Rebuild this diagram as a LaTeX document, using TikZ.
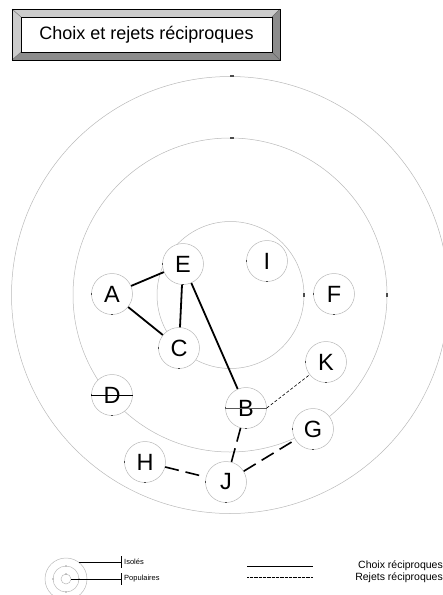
\documentclass[tikz,border=0pt]{standalone}
\usepackage{fontspec}
\setmainfont{Liberation Sans}
\usetikzlibrary{positioning}
\definecolor{ringgray}{RGB}{185,185,185}
\definecolor{bevellight}{RGB}{204,204,204}
\definecolor{beveldark}{RGB}{140,140,140}

\begin{document}
\begin{tikzpicture}[x=1pt,y=-1pt,
  ring/.style={draw=ringgray,line width=0.5pt},
  pupil/.style={circle,draw=ringgray,line width=0.5pt,fill=white,minimum size=41pt,inner sep=0pt,font=\fontsize{23.5}{23.5}\selectfont},
  ticky/.style={draw=black!70,line width=1.2pt},
  choix/.style={line width=1.8pt},
  rejet/.style={line width=1.6pt,dash pattern=on 14pt off 7pt},
  rejetfin/.style={line width=0.6pt,dash pattern=on 3pt off 2pt}]
\useasboundingbox (0,0) rectangle (443,595);
% Title box with bevel
\fill[beveldark] (12,9) rectangle (280,60);
\fill[bevellight] (12,9) -- (280,9) -- (272,17) -- (21,17) -- (21,52) -- (12,60) -- cycle;
\draw[black!60,line width=0.4pt] (12,9) -- (21,17) (280,9) -- (272,17) (12,60) -- (21,52) (280,60) -- (272,52);
\draw[black,line width=0.8pt] (12,9) rectangle (280,60);
\node[draw=black,line width=0.8pt,fill=white,minimum width=251pt,minimum height=35pt,inner sep=0pt,
  font=\fontsize{18}{18}\selectfont] (title) at (146.5,34.5) {Choix et rejets réciproques};
% Concentric rings
\draw[ring] (230,295) circle[radius=218.5pt];
\draw[ring] (230,295) circle[radius=157pt];
\draw[ring] (230.5,295) circle[radius=73.5pt];
\draw[ticky] (230,76) -- (234,76);
\draw[ticky] (230,138) -- (234,138);
\draw[ticky] (387,293) -- (387,297);
\draw[ticky] (304,293) -- (304,297);
% Pupils
\node[pupil] (A) at (112,294) {A};
\node[pupil] (E) at (183,264) {E};
\node[pupil] (I) at (267,261) {I};
\node[pupil] (F) at (334,294) {F};
\node[pupil] (C) at (179,348) {C};
\node[pupil] (K) at (326,362) {K};
\node[pupil] (D) at (112,395) {D};
\node[pupil] (B) at (246,408) {B};
\node[pupil] (G) at (313,429) {G};
\node[pupil] (H) at (145,462) {H};
\node[pupil] (J) at (226,482) {J};
\foreach \n in {A,E,I,F,C,K,D,B,G,H,J} {
  \draw[ticky,line width=0.9pt] (\n.west) ++(0,-1.2) -- ++(0,2.4);
  \draw[ticky,line width=0.9pt] (\n.south) ++(-1.2,0) -- ++(2.4,0);
}
% Crossed out
\draw[line width=1pt] (D.west) -- (D.east);
\draw[black!65,line width=1pt] (B.west) -- (B.east);
% Mutual choices
\draw[choix] (A) -- (E);
\draw[choix] (A) -- (C);
\draw[choix] (E) -- (C);
\draw[choix] (E) -- (B);
% Mutual rejections
\draw[rejetfin] (B.east) -- (K);
\draw[rejet] (B) -- (J);
\draw[rejet] (H) -- (J);
\draw[rejet] (J) -- (G);
% Legend, rings
\coordinate (lc) at (66,579);
\draw[ring] (lc) circle[radius=21pt];
\draw[ring] (lc) circle[radius=13pt];
\draw[ring] (lc) circle[radius=5pt];
\foreach \a in {0,90,180,270} {
  \fill[black!70] (lc) ++(\a:13pt) circle[radius=0.7pt];
}
\fill[black!70] (lc) ++(0,-5) circle[radius=0.6pt];
\coordinate (iso0) at (79,562);
\coordinate (iso1) at (121,562);
\coordinate (pop0) at (71,579);
\coordinate (pop1) at (121,579);
\draw[line width=0.6pt] (iso0) -- (iso1);
\draw[line width=0.6pt] (pop0) -- (pop1);
\draw[line width=1pt] (iso1) ++(0,-6) -- ++(0,12);
\draw[line width=1pt] (pop1) ++(0,-6) -- ++(0,12);
\node[anchor=west,inner sep=0pt,font=\fontsize{7.5}{8}\selectfont] (isoles) at (124,562) {Isolés};
\node[anchor=west,inner sep=0pt,font=\fontsize{7.5}{8}\selectfont] (popul) at (124,579) {Populaires};
% Legend, lines
\coordinate (ch0) at (247,566);
\coordinate (ch1) at (313,566);
\coordinate (rj0) at (247,577);
\coordinate (rj1) at (313,577);
\draw[line width=0.8pt] (ch0) -- (ch1);
\draw[line width=1pt,dash pattern=on 0.8pt off 0.5pt] (rj0) -- (rj1);
\node[anchor=east,inner sep=0pt,font=\fontsize{10.5}{11}\selectfont] (choixtxt) at (443,566) {Choix réciproques};
\node[anchor=east,inner sep=0pt,font=\fontsize{10.5}{11}\selectfont] (rejettxt) at (443,578) {Rejets réciproques};
\end{tikzpicture}
\end{document}
